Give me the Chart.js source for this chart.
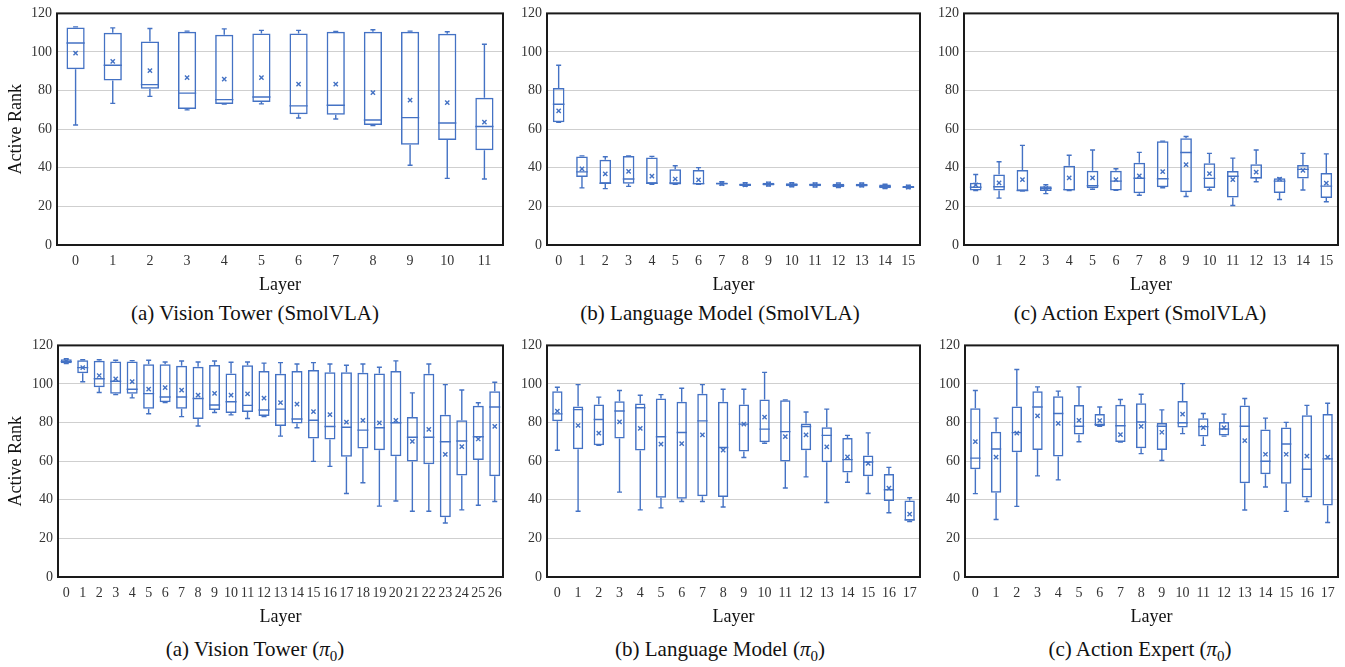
<!DOCTYPE html>
<html>
<head>
<meta charset="utf-8">
<script src="https://cdn.jsdelivr.net/npm/chart.js@4.4.0/dist/chart.umd.min.js"></script>
<style>
  body { margin: 0; background: #fff; width: 1345px; height: 667px; position: relative; overflow: hidden; }
  canvas { position: absolute; }
  .cap { position: absolute; width: 500px; text-align: center; font-family: 'Liberation Serif', 'DejaVu Serif', serif; font-size: 21px; line-height: 24px; color: #111; }
  .cap sub { font-size: 15px; }
</style>
</head>
<body>
<canvas id="c1" width="515" height="300" style="left:0;top:0"></canvas>
<canvas id="c2" width="425" height="300" style="left:505px;top:0"></canvas>
<canvas id="c3" width="420" height="300" style="left:925px;top:0"></canvas>
<canvas id="c4" width="515" height="300" style="left:0;top:332px"></canvas>
<canvas id="c5" width="425" height="300" style="left:505px;top:332px"></canvas>
<canvas id="c6" width="420" height="300" style="left:925px;top:332px"></canvas>

<div class="cap" style="left:5px;top:301px">(a) Vision Tower (SmolVLA)</div>
<div class="cap" style="left:470px;top:301px">(b) Language Model (SmolVLA)</div>
<div class="cap" style="left:890px;top:301px">(c) Action Expert (SmolVLA)</div>
<div class="cap" style="left:5px;top:637px">(a) Vision Tower (<i>π</i><sub>0</sub>)</div>
<div class="cap" style="left:470px;top:637px">(b) Language Model (<i>π</i><sub>0</sub>)</div>
<div class="cap" style="left:890px;top:637px">(c) Action Expert (<i>π</i><sub>0</sub>)</div>

<script>
// ---- data: box statistics per layer ----

// (a) Vision Tower (SmolVLA)
const visionSmolMin  = [62.2, 73.4, 77.0, 70.0, 73.0, 73.1, 65.8, 65.3, 61.9, 41.3, 34.5, 34.2];
const visionSmolQ1   = [91.0, 85.2, 80.9, 70.5, 73.1, 74.1, 67.8, 67.5, 62.2, 52.0, 54.4, 49.1];
const visionSmolMed  = [104.7, 93.1, 83.1, 78.7, 75.3, 76.7, 72.1, 72.4, 64.8, 66.0, 63.2, 61.4];
const visionSmolQ3   = [112.7, 110.0, 105.4, 110.5, 109.0, 109.6, 109.6, 110.5, 110.5, 110.5, 109.5, 76.3];
const visionSmolMax  = [113.0, 112.5, 112.2, 110.8, 112.0, 111.2, 111.2, 110.7, 111.5, 110.8, 110.5, 104.0];
const visionSmolMean = [99.4, 95.2, 90.3, 86.7, 86.0, 86.7, 83.3, 83.3, 79.0, 75.1, 73.8, 63.7];

// (b) Language Model (SmolVLA)
const langSmolMin  = [63.6, 29.6, 29.2, 30.4, 31.4, 31.4, 31.4, 31.0, 30.4, 30.6, 30.2, 30.0, 29.8, 30.2, 29.3, 29.2];
const langSmolQ1   = [63.6, 35.2, 31.8, 31.8, 31.8, 31.4, 31.4, 31.3, 30.6, 30.8, 30.4, 30.5, 29.9, 30.3, 29.4, 29.5];
const langSmolMed  = [72.9, 37.9, 32.0, 34.2, 32.0, 32.1, 31.8, 31.8, 31.2, 31.5, 31.2, 31.2, 30.8, 31.0, 30.3, 30.0];
const langSmolQ3   = [81.4, 45.9, 44.2, 46.1, 45.4, 39.3, 38.9, 32.4, 31.9, 32.2, 32.0, 31.9, 31.8, 31.8, 31.3, 30.6];
const langSmolMax  = [93.1, 46.2, 45.7, 46.2, 45.9, 41.1, 40.1, 32.8, 32.3, 32.6, 32.3, 32.2, 32.1, 32.1, 31.5, 31.0];
const langSmolMean = [69.5, 39.4, 36.9, 38.1, 35.7, 34.2, 33.7, 31.8, 31.2, 31.5, 31.2, 31.1, 30.8, 31.0, 30.3, 30.0];

// (c) Action Expert (SmolVLA)
const actSmolMin  = [28.2, 24.3, 28.0, 26.6, 28.2, 28.9, 28.3, 25.8, 29.7, 25.1, 28.5, 20.5, 32.8, 23.6, 28.5, 22.4];
const actSmolQ1   = [28.2, 28.2, 28.0, 28.0, 28.2, 29.4, 28.3, 26.8, 29.9, 27.3, 29.5, 24.6, 34.5, 27.0, 34.5, 24.4];
const actSmolMed  = [29.9, 30.2, 28.2, 29.4, 28.7, 30.7, 33.1, 34.6, 34.3, 47.9, 34.5, 35.6, 34.8, 33.1, 39.2, 30.5];
const actSmolQ3   = [32.2, 36.5, 38.9, 30.5, 41.1, 38.5, 38.5, 42.6, 53.8, 55.3, 42.4, 38.4, 41.9, 34.6, 41.4, 37.3];
const actSmolMax  = [36.5, 43.1, 51.6, 31.2, 46.5, 49.2, 39.5, 48.0, 53.8, 56.2, 47.5, 45.0, 49.2, 34.8, 47.5, 47.2];
const actSmolMean = [31.1, 32.2, 33.9, 29.4, 34.8, 34.8, 33.9, 35.8, 38.0, 41.6, 37.0, 33.9, 37.7, 34.1, 38.7, 32.1];

// (a) Vision Tower (pi0)
const visionPiMin  = [110.6, 101.2, 95.6, 94.5, 92.8, 84.6, 90.4, 83.1, 78.2, 85.2, 84.0, 82.1, 83.1, 73.0, 77.3, 59.9, 57.3, 43.3, 48.8, 36.7, 39.4, 34.1, 34.1, 28.0, 34.8, 37.2, 39.1];
const visionPiQ1   = [110.8, 105.6, 98.3, 95.0, 95.0, 87.2, 90.6, 87.2, 81.9, 86.5, 85.0, 85.5, 83.4, 78.3, 79.5, 71.8, 71.2, 62.3, 66.6, 65.7, 62.6, 59.9, 58.4, 30.9, 52.6, 60.6, 52.2];
const visionPiMed  = [111.6, 108.5, 102.7, 101.4, 97.3, 95.0, 93.3, 93.3, 92.5, 89.1, 90.8, 88.9, 86.5, 87.0, 81.9, 81.2, 78.0, 77.6, 76.1, 77.3, 79.9, 72.4, 72.4, 70.1, 70.5, 72.7, 88.1];
const visionPiQ3   = [112.8, 112.3, 112.0, 111.6, 111.6, 110.2, 110.2, 109.4, 108.9, 109.9, 105.5, 109.7, 106.8, 105.3, 106.8, 107.3, 106.1, 106.1, 105.8, 105.5, 106.8, 82.9, 105.3, 84.1, 81.2, 88.7, 96.2];
const visionPiMax  = [113.1, 112.6, 112.6, 112.3, 112.1, 112.3, 111.4, 111.9, 111.4, 111.9, 111.3, 111.4, 110.8, 111.1, 110.4, 111.1, 110.4, 109.7, 110.4, 108.7, 112.0, 95.4, 110.4, 99.7, 96.9, 90.3, 100.9];
const visionPiMean = [111.8, 108.5, 104.4, 102.7, 101.2, 97.3, 98.1, 96.8, 94.2, 95.2, 94.2, 94.9, 92.7, 90.3, 89.6, 85.7, 84.1, 80.2, 81.2, 79.9, 81.1, 70.3, 76.5, 63.5, 67.6, 71.5, 78.0];

// (b) Language Model (pi0)
const langPiMin  = [65.7, 34.1, 68.3, 44.0, 34.8, 35.8, 39.1, 39.1, 36.3, 61.9, 69.3, 46.1, 51.9, 38.6, 49.1, 43.3, 33.3, 28.7];
const langPiQ1   = [80.7, 66.2, 68.3, 71.7, 65.5, 41.0, 40.6, 41.8, 41.5, 65.0, 69.8, 59.9, 65.7, 59.4, 54.1, 52.2, 39.4, 29.2];
const langPiMed  = [84.5, 86.7, 81.6, 86.0, 87.7, 72.7, 74.9, 80.9, 67.1, 79.2, 76.6, 75.3, 78.0, 73.4, 60.8, 59.6, 45.2, 29.6];
const langPiQ3   = [96.2, 88.4, 89.4, 91.1, 89.9, 92.5, 90.8, 95.0, 90.8, 89.4, 92.0, 91.6, 79.5, 77.6, 72.0, 63.0, 53.4, 39.6];
const langPiMax  = [98.3, 99.7, 93.2, 96.6, 94.2, 94.5, 97.8, 99.7, 97.3, 97.3, 106.0, 91.8, 85.5, 87.0, 73.4, 74.7, 56.8, 41.1];
const langPiMean = [86.0, 78.5, 74.6, 80.4, 77.0, 68.8, 69.1, 73.7, 65.7, 79.2, 82.8, 72.7, 73.7, 67.4, 62.3, 58.9, 46.1, 32.6];

// (c) Action Expert (pi0)
const actPiMin  = [43.2, 29.8, 36.6, 52.4, 50.3, 70.1, 78.1, 69.9, 63.9, 60.4, 74.3, 68.2, 73.0, 34.7, 46.6, 34.0, 39.1, 28.2];
const actPiQ1   = [55.8, 43.7, 64.6, 65.8, 62.4, 73.8, 78.1, 69.9, 66.7, 65.8, 77.4, 72.8, 73.3, 48.6, 53.2, 48.3, 41.2, 37.1];
const actPiMed  = [61.6, 66.3, 74.8, 88.1, 84.7, 78.1, 79.1, 78.4, 80.3, 78.1, 79.9, 77.9, 76.7, 78.1, 60.0, 68.9, 55.8, 61.2];
const actPiQ3   = [87.4, 75.3, 88.4, 96.3, 93.7, 89.1, 84.4, 89.3, 90.0, 79.8, 91.2, 82.3, 80.3, 88.9, 76.4, 77.4, 83.8, 84.4];
const actPiMax  = [96.6, 82.3, 107.5, 98.5, 96.3, 98.5, 88.1, 92.0, 94.7, 86.6, 100.2, 84.7, 84.4, 92.5, 82.3, 80.1, 88.9, 90.0];
const actPiMean = [70.1, 62.1, 74.5, 83.5, 79.6, 81.1, 81.0, 73.8, 78.1, 75.0, 84.4, 77.4, 77.4, 70.7, 63.6, 63.6, 62.6, 62.1];

const yTicks = [0, 20, 40, 60, 80, 100, 120];

const BLUE = '#4472C4';
const SERIF = "'Liberation Serif', 'DejaVu Serif', serif";

// whiskers, caps and median line, placed with the chart's own scales
const boxExtras = {
    id: 'boxExtras',
    beforeDatasetsDraw(chart) {
        // plot frame
        const a = chart.chartArea;
        const ctx = chart.ctx;
        ctx.save();
        ctx.strokeStyle = '#1a1a1a';
        ctx.lineWidth = 2;
        ctx.strokeRect(a.left, a.top, a.right - a.left, a.bottom - a.top);
        ctx.restore();
    },
    afterDatasetsDraw(chart, args, opts) {
        const ctx = chart.ctx;
        const y = chart.scales.y;
        const bars = chart.getDatasetMeta(0).data;
        ctx.save();
        ctx.strokeStyle = BLUE;
        ctx.lineWidth = 1.4;
        bars.forEach(function(bar, i) {
            const half = bar.width / 2;
            const cap = 2.5;
            const yMed = y.getPixelForValue(opts.med[i]);
            const yQ1 = y.getPixelForValue(opts.q1[i]);
            const yQ3 = y.getPixelForValue(opts.q3[i]);
            const yMin = y.getPixelForValue(opts.min[i]);
            const yMax = y.getPixelForValue(opts.max[i]);
            ctx.beginPath();
            ctx.moveTo(bar.x - half, yMed);
            ctx.lineTo(bar.x + half, yMed);
            ctx.moveTo(bar.x, yQ3);
            ctx.lineTo(bar.x, yMax);
            ctx.moveTo(bar.x - cap, yMax);
            ctx.lineTo(bar.x + cap, yMax);
            ctx.moveTo(bar.x, yQ1);
            ctx.lineTo(bar.x, yMin);
            ctx.moveTo(bar.x - cap, yMin);
            ctx.lineTo(bar.x + cap, yMin);
            ctx.stroke();
        });
        ctx.restore();
    }
};

function makeBoxChart(id, s, cfg) {
    const labels = s.min.map(function(_, i) { return String(i); });
    new Chart(document.getElementById(id), {
        type: 'bar',
        data: {
            labels: labels,
            datasets: [
                {
                    type: 'bar',
                    data: s.q1.map(function(v, i) { return [v, s.q3[i]]; }),
                    backgroundColor: 'rgba(255,255,255,0)',
                    borderColor: BLUE,
                    borderWidth: 1.5,
                    borderSkipped: false,
                    barPercentage: cfg.barPct,
                    categoryPercentage: 1
                },
                {
                    type: 'line',
                    data: s.mean,
                    showLine: false,
                    pointStyle: 'crossRot',
                    pointRadius: 3,
                    pointBorderWidth: 1.4,
                    borderColor: BLUE,
                    backgroundColor: BLUE
                }
            ]
        },
        options: {
            responsive: false,
            animation: false,
            events: [],
            layout: { padding: { top: 10, right: cfg.rightPad, bottom: 0, left: 0 } },
            plugins: {
                legend: { display: false },
                tooltip: { enabled: false },
                boxExtras: { min: s.min, q1: s.q1, med: s.med, q3: s.q3, max: s.max }
            },
            scales: {
                x: {
                    offset: true,
                    grid: { display: false },
                    border: { display: false },
                    ticks: { color: '#333', padding: 0, maxRotation: 0, autoSkip: false, font: { family: SERIF, size: 14 } },
                    title: { display: true, text: 'Layer', color: '#111', padding: { top: 4, bottom: 4 }, font: { family: SERIF, size: 18 } },
                    afterFit: function(scale) { scale.height = 55; }
                },
                y: {
                    min: 0,
                    max: 120,
                    afterBuildTicks: function(scale) { scale.ticks = yTicks.map(function(v) { return { value: v }; }); },
                    grid: { color: '#cfcfcf', lineWidth: 1, drawTicks: false },
                    border: { display: false },
                    ticks: { color: '#333', padding: 5, font: { family: SERIF, size: 14 } },
                    title: { display: cfg.yTitle, text: 'Active Rank', color: '#111', padding: { top: 5, bottom: 5 }, font: { family: SERIF, size: 18 } },
                    afterFit: function(scale) { scale.width = cfg.axisW; }
                }
            }
        },
        plugins: [boxExtras]
    });
}

makeBoxChart('c1', { min: visionSmolMin, q1: visionSmolQ1, med: visionSmolMed, q3: visionSmolQ3, max: visionSmolMax, mean: visionSmolMean },
    { axisW: 57, rightPad: 12, barPct: 0.49, yTitle: true });
makeBoxChart('c2', { min: langSmolMin, q1: langSmolQ1, med: langSmolMed, q3: langSmolQ3, max: langSmolMax, mean: langSmolMean },
    { axisW: 42, rightPad: 10, barPct: 0.5, yTitle: false });
makeBoxChart('c3', { min: actSmolMin, q1: actSmolQ1, med: actSmolMed, q3: actSmolQ3, max: actSmolMax, mean: actSmolMean },
    { axisW: 39, rightPad: 7, barPct: 0.5, yTitle: false });
makeBoxChart('c4', { min: visionPiMin, q1: visionPiQ1, med: visionPiMed, q3: visionPiQ3, max: visionPiMax, mean: visionPiMean },
    { axisW: 58, rightPad: 12, barPct: 0.67, yTitle: true });
makeBoxChart('c5', { min: langPiMin, q1: langPiQ1, med: langPiMed, q3: langPiQ3, max: langPiMax, mean: langPiMean },
    { axisW: 42, rightPad: 10, barPct: 0.5, yTitle: false });
makeBoxChart('c6', { min: actPiMin, q1: actPiQ1, med: actPiMed, q3: actPiQ3, max: actPiMax, mean: actPiMean },
    { axisW: 40, rightPad: 7, barPct: 0.5, yTitle: false });
</script>
</body>
</html>
